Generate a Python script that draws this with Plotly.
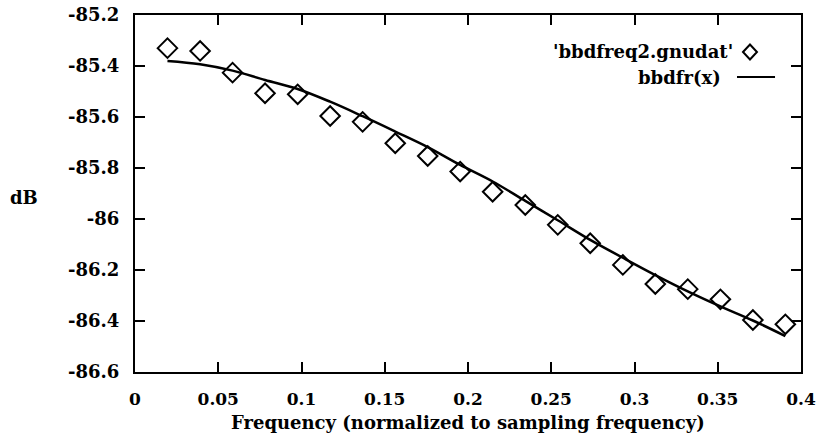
import plotly.graph_objects as go

freq = [0.0195, 0.0391, 0.0586, 0.0781, 0.0977, 0.1172, 0.1367, 0.1563, 0.1758, 0.1953,
        0.2148, 0.2344, 0.2539, 0.2734, 0.2930, 0.3125, 0.3320, 0.3516, 0.3711, 0.3906]
data_db = [-85.330, -85.341, -85.426, -85.507, -85.511, -85.596, -85.619, -85.703, -85.753, -85.814,
           -85.893, -85.945, -86.023, -86.095, -86.180, -86.255, -86.275, -86.315, -86.396, -86.413]
fit_db = [-85.380, -85.393, -85.418, -85.455, -85.490, -85.540, -85.597, -85.657, -85.718, -85.788,
          -85.853, -85.929, -86.005, -86.082, -86.152, -86.220, -86.284, -86.343, -86.398, -86.459]

x_ticks = [0, 0.05, 0.1, 0.15, 0.2, 0.25, 0.3, 0.35, 0.4]
x_ticklabels = ["0", "0.05", "0.1", "0.15", "0.2", "0.25", "0.3", "0.35", "0.4"]
y_ticks = [-85.2, -85.4, -85.6, -85.8, -86.0, -86.2, -86.4, -86.6]
y_ticklabels = ["-85.2", "-85.4", "-85.6", "-85.8", "-86", "-86.2", "-86.4", "-86.6"]

FONT = "DejaVu Serif"
tf = dict(family=FONT, size=18, color="black", weight="bold")
xtickf = dict(family=FONT, size=17, color="black", weight="bold")
ytickf = dict(family=FONT, size=18, color="black", weight="bold")

fig = go.Figure()
fig.add_trace(go.Scatter(x=freq, y=fit_db, mode="lines", line=dict(color="black", width=2.5, shape="spline"),
                         name="bbdfr(x)", showlegend=False))
fig.add_trace(go.Scatter(x=freq, y=data_db, mode="markers",
                         marker=dict(symbol="diamond-open", size=15, color="black", line=dict(width=2, color="black")),
                         name="'bbdfreq2.gnudat'", showlegend=False))

axis_common = dict(showgrid=False, zeroline=False, showline=True, linecolor="black", linewidth=2,
                   mirror="allticks", ticks="inside", ticklen=10, tickwidth=2, tickcolor="black",
                   automargin=False, ticklabeloverflow="allow")
fig.update_xaxes(range=[0, 0.4], tickvals=x_ticks, ticktext=x_ticklabels, ticklabelstandoff=11,
                 tickfont=xtickf, **axis_common)
fig.update_yaxes(range=[-86.6, -85.2], tickvals=y_ticks, ticktext=y_ticklabels, ticklabelstandoff=10,
                 tickfont=ytickf, **axis_common)

fig.add_annotation(text="Frequency (normalized to sampling frequency)", xref="paper", yref="paper",
                   x=0.5, y=0, yanchor="middle", yshift=-50, showarrow=False, font=tf)
fig.add_annotation(text="dB", xref="paper", yref="paper", x=0, xshift=-111, y=0.49, xanchor="center",
                   yanchor="middle", showarrow=False, font=tf)

# legend (gnuplot style: text then sample)
fig.add_annotation(text="'bbdfreq2.gnudat'", xref="paper", yref="paper", x=0.9009, y=0.8964,
                   xanchor="right", yanchor="middle", showarrow=False, font=tf)
fig.add_annotation(text="bbdfr(x)", xref="paper", yref="paper", x=0.8829, y=0.826,
                   xanchor="right", yanchor="middle", showarrow=False, font=tf)
fig.add_shape(type="path", xref="paper", yref="paper",
              path="M 0.9129 0.8964 L 0.9234 0.9174 L 0.9339 0.8964 L 0.9234 0.8754 Z",
              line=dict(color="black", width=2))
fig.add_shape(type="line", xref="paper", yref="paper", x0=0.9039, x1=0.9610, y0=0.8264, y1=0.8264,
              line=dict(color="black", width=2))

fig.update_layout(width=817, height=438, margin=dict(l=135, r=16, t=15, b=66),
                  plot_bgcolor="white", paper_bgcolor="white", showlegend=False, hovermode=False)
fig.write_html("out.html", config={"displayModeBar": False},
               post_script="document.body.style.margin='0';document.body.style.overflow='hidden';")
